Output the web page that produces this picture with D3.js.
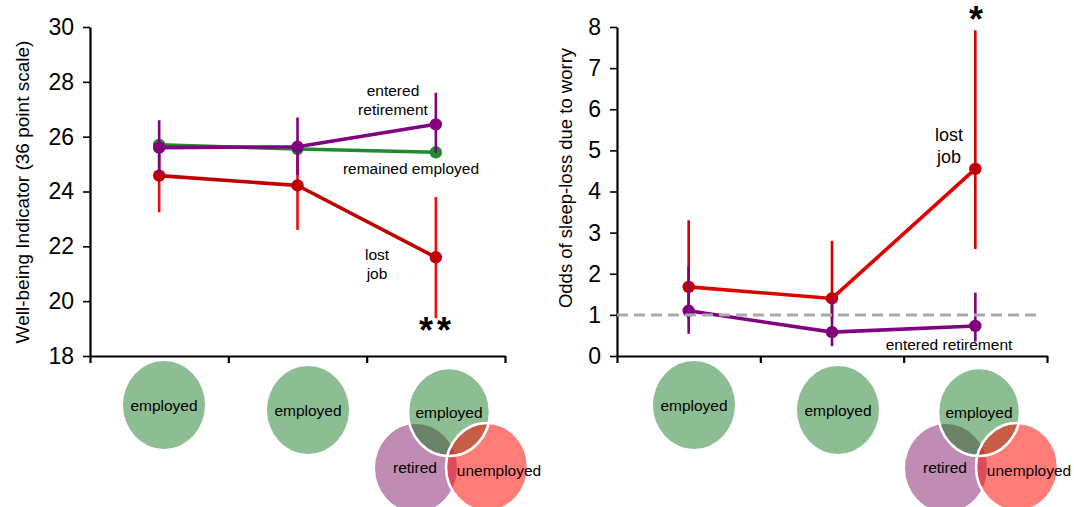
<!DOCTYPE html>
<html>
<head>
<meta charset="utf-8">
<script src="https://cdn.jsdelivr.net/npm/d3@7"></script>
<style>
  body { margin: 0; background: #fff; }
  svg { font-family: "Liberation Sans", Arial, sans-serif; }
</style>
</head>
<body>
<div id="chart"></div>
<script>
// three survey waves (x categories, no tick labels on the axis)
const waves = ["wave 1", "wave 2", "wave 3"];

// left panel: well-being indicator
const wbTicks = [18, 20, 22, 24, 26, 28, 30];
const wbEmployed = [25.7, 25.55, 25.43];
const wbRetired = [25.6, 25.63, 26.45];
const wbRetiredLo = [24.6, 24.6, 25.4];
const wbRetiredHi = [26.6, 26.7, 27.6];
const wbLost = [24.58, 24.22, 21.6];
const wbLostLo = [23.24, 22.6, 19.38];
const wbLostHi = [25.9, 25.8, 23.8];

// right panel: odds of sleep-loss
const oddsTicks = [0, 1, 2, 3, 4, 5, 6, 7, 8];
const oddsLost = [1.68, 1.4, 4.55];
const oddsLostLo = [0.9, 0.9, 2.6];
const oddsLostHi = [3.3, 2.8, 7.92];
const oddsRetired = [1.1, 0.58, 0.73];
const oddsRetiredLo = [0.54, 0.24, 0.35];
const oddsRetiredHi = [2.19, 1.4, 1.54];

const svg = d3
  .select("#chart")
  .append("svg")
  .attr("width", 1074)
  .attr("height", 507);

const defs = svg.append("defs");

function drawPanel(p) {
  const g = svg.append("g").attr("class", "panel");

  const xEdge = d3.scaleLinear().domain([0, waves.length]).range([p.left, p.right]);
  const xPos = (i) => xEdge(i + 0.5);
  const y = d3.scaleLinear().domain(p.domain).range([356, 27]);

  // x axis
  const xAxis = g
    .append("g")
    .attr("transform", `translate(0, ${y(p.domain[0])})`)
    .call(
      d3.axisBottom(xEdge)
        .tickValues(d3.range(0, waves.length + 1))
        .tickFormat("")
        .tickSize(7)
        .tickSizeOuter(0)
    );
  xAxis.select(".domain").attr("stroke-width", 2.2);
  xAxis.selectAll(".tick line").attr("stroke-width", 2.2);

  // y axis
  const yAxis = g
    .append("g")
    .attr("transform", `translate(${p.left}, 0)`)
    .call(
      d3.axisLeft(y)
        .tickValues(p.ticks)
        .tickSize(7)
        .tickSizeOuter(0)
        .tickPadding(9)
    );
  yAxis.select(".domain").attr("stroke-width", 2.2);
  yAxis.selectAll(".tick line").attr("stroke-width", 1.6);
  yAxis
    .selectAll(".tick text")
    .style("font-size", "23px")
    .style("font-family", "Liberation Sans, Arial, sans-serif")
    .attr("fill", "#000");

  // y label
  g.append("text")
    .attr("transform", `translate(${p.labelX}, ${p.labelY}) rotate(-90)`)
    .attr("text-anchor", "middle")
    .attr("dy", "0.35em")
    .style("font-size", p.labelSize + "px")
    .text(p.yLabel);

  // reference line
  if (p.refLine != null) {
    g.append("line")
      .attr("x1", p.left)
      .attr("x2", p.right - 5)
      .attr("y1", y(p.refLine))
      .attr("y2", y(p.refLine))
      .attr("stroke", "#aaa")
      .attr("stroke-width", 3)
      .attr("stroke-dasharray", "11,6")
      .attr("class", "refline");
  }

  // series
  p.series.forEach(function (s) {
    const sg = g.append("g");
    if (s.lo) {
      sg.selectAll("line.err")
        .data(s.values)
        .join("line")
        .attr("class", "err")
        .attr("x1", (d, i) => xPos(i))
        .attr("x2", (d, i) => xPos(i))
        .attr("y1", (d, i) => y(s.lo[i]))
        .attr("y2", (d, i) => y(s.hi[i]))
        .attr("stroke", s.errColor)
        .attr("stroke-width", 2.6);
    }
    sg.append("path")
      .datum(s.values)
      .attr("fill", "none")
      .attr("stroke", s.color)
      .attr("stroke-width", 3.6)
      .attr("d", d3.line().x((d, i) => xPos(i)).y((d) => y(d)));
    sg.selectAll("circle")
      .data(s.values)
      .join("circle")
      .attr("cx", (d, i) => xPos(i))
      .attr("cy", (d) => y(d))
      .attr("r", 6.2)
      .attr("fill", s.dot);
  });

  if (p.refLine != null) g.select(".refline").raise();

  // annotations
  p.notes.forEach(function (n) {
    g.append("text")
      .attr("x", n.x)
      .attr("y", n.y)
      .attr("text-anchor", "middle")
      .attr("dy", "0.35em")
      .style("font-size", n.size + "px")
      .style("font-weight", n.bold ? "bold" : "normal")
      .style("letter-spacing", n.spacing ? n.spacing + "px" : null)
      .text(n.text);
  });

  // venn-style status bubbles under the axis
  const rx = 41, ry = 44;
  const b = p.left + p.shift;
  const c1 = { x: b + 74, y: 405 };
  const c2 = { x: b + 218, y: 410 };
  const cE = { x: b + 359, y: 412 };
  const cR = { x: b + 326, y: 468 };
  const cU = { x: b + 397, y: 467 };

  [c1, c2].forEach(function (c) {
    g.append("ellipse")
      .attr("cx", c.x).attr("cy", c.y).attr("rx", rx).attr("ry", ry)
      .attr("fill", "#8dbe93");
    g.append("text")
      .attr("x", c.x).attr("y", c.y + 1)
      .attr("text-anchor", "middle").attr("dy", "0.35em")
      .style("font-size", "15.5px")
      .text("employed");
  });

  const id = p.id;
  const clip = function (name, c) {
    defs.append("clipPath").attr("id", id + name)
      .append("ellipse")
      .attr("cx", c.x).attr("cy", c.y).attr("rx", rx).attr("ry", ry);
  };
  clip("E", cE);
  clip("R", cR);
  clip("U", cU);

  const ell = function (c, fill) {
    return g.append("ellipse")
      .attr("cx", c.x).attr("cy", c.y).attr("rx", rx).attr("ry", ry)
      .attr("fill", fill);
  };
  ell(cR, "#c18cb4");
  ell(cE, "#8dbe93");
  ell(cU, "#ff7c78");
  // overlaps
  ell(cR, "#6b8469").attr("clip-path", `url(#${id}E)`);
  ell(cU, "#c75d46").attr("clip-path", `url(#${id}E)`);
  ell(cU, "#de4a5a").attr("clip-path", `url(#${id}R)`);
  g.append("g").attr("clip-path", `url(#${id}E)`)
    .append("g").attr("clip-path", `url(#${id}R)`)
    .append("ellipse")
    .attr("cx", cU.x).attr("cy", cU.y).attr("rx", rx).attr("ry", ry)
    .attr("fill", "#c5393a");
  // white rims
  [cE, cU].forEach(function (c) {
    g.append("ellipse")
      .attr("cx", c.x).attr("cy", c.y).attr("rx", rx).attr("ry", ry)
      .attr("fill", "none").attr("stroke", "#fff").attr("stroke-width", 2.6);
  });

  [
    { c: cE, t: "employed", dx: 0, dy: 1 },
    { c: cR, t: "retired", dx: -1, dy: 0 },
    { c: cU, t: "unemployed", dx: 12, dy: 4 },
  ].forEach(function (l) {
    g.append("text")
      .attr("x", l.c.x + l.dx).attr("y", l.c.y + l.dy)
      .attr("text-anchor", "middle").attr("dy", "0.35em")
      .style("font-size", "15.5px")
      .text(l.t);
  });
}

drawPanel({
  id: "wb",
  left: 90,
  right: 505,
  shift: 0,
  domain: [18, 30],
  ticks: wbTicks,
  yLabel: "Well-being Indicator (36 point scale)",
  labelX: 22,
  labelY: 192,
  labelSize: 19,
  refLine: null,
  series: [
    { values: wbLost, lo: wbLostLo, hi: wbLostHi, color: "#c00000", dot: "#c00000", errColor: "#e81010" },
    { values: wbEmployed, color: "#1e8c2e", dot: "#1e8c2e" },
    { values: wbRetired, lo: wbRetiredLo, hi: wbRetiredHi, color: "#800080", dot: "#800080", errColor: "#800080" },
  ],
  notes: [
    { text: "entered", x: 393, y: 91, size: 15.5 },
    { text: "retirement", x: 393, y: 110, size: 15.5 },
    { text: "remained employed", x: 411, y: 169, size: 15.5 },
    { text: "lost", x: 377, y: 255, size: 15.5 },
    { text: "job", x: 377, y: 274, size: 15.5 },
    { text: "**", x: 437, y: 330, size: 36, bold: true, spacing: 4 },
  ],
});

drawPanel({
  id: "odds",
  left: 617,
  right: 1047,
  shift: 3,
  domain: [0, 8],
  ticks: oddsTicks,
  yLabel: "Odds of sleep-loss due to worry",
  labelX: 566,
  labelY: 178,
  labelSize: 18.5,
  refLine: 1,
  series: [
    { values: oddsLost, lo: oddsLostLo, hi: oddsLostHi, color: "#e00000", dot: "#c00000", errColor: "#d00000" },
    { values: oddsRetired, lo: oddsRetiredLo, hi: oddsRetiredHi, color: "#800080", dot: "#800080", errColor: "#800080" },
  ],
  notes: [
    { text: "lost", x: 949, y: 135, size: 18 },
    { text: "job", x: 949, y: 157, size: 18 },
    { text: "entered retirement", x: 949, y: 345, size: 15.5 },
    { text: "*", x: 976, y: 19, size: 36, bold: true },
  ],
});
</script>
</body>
</html>
